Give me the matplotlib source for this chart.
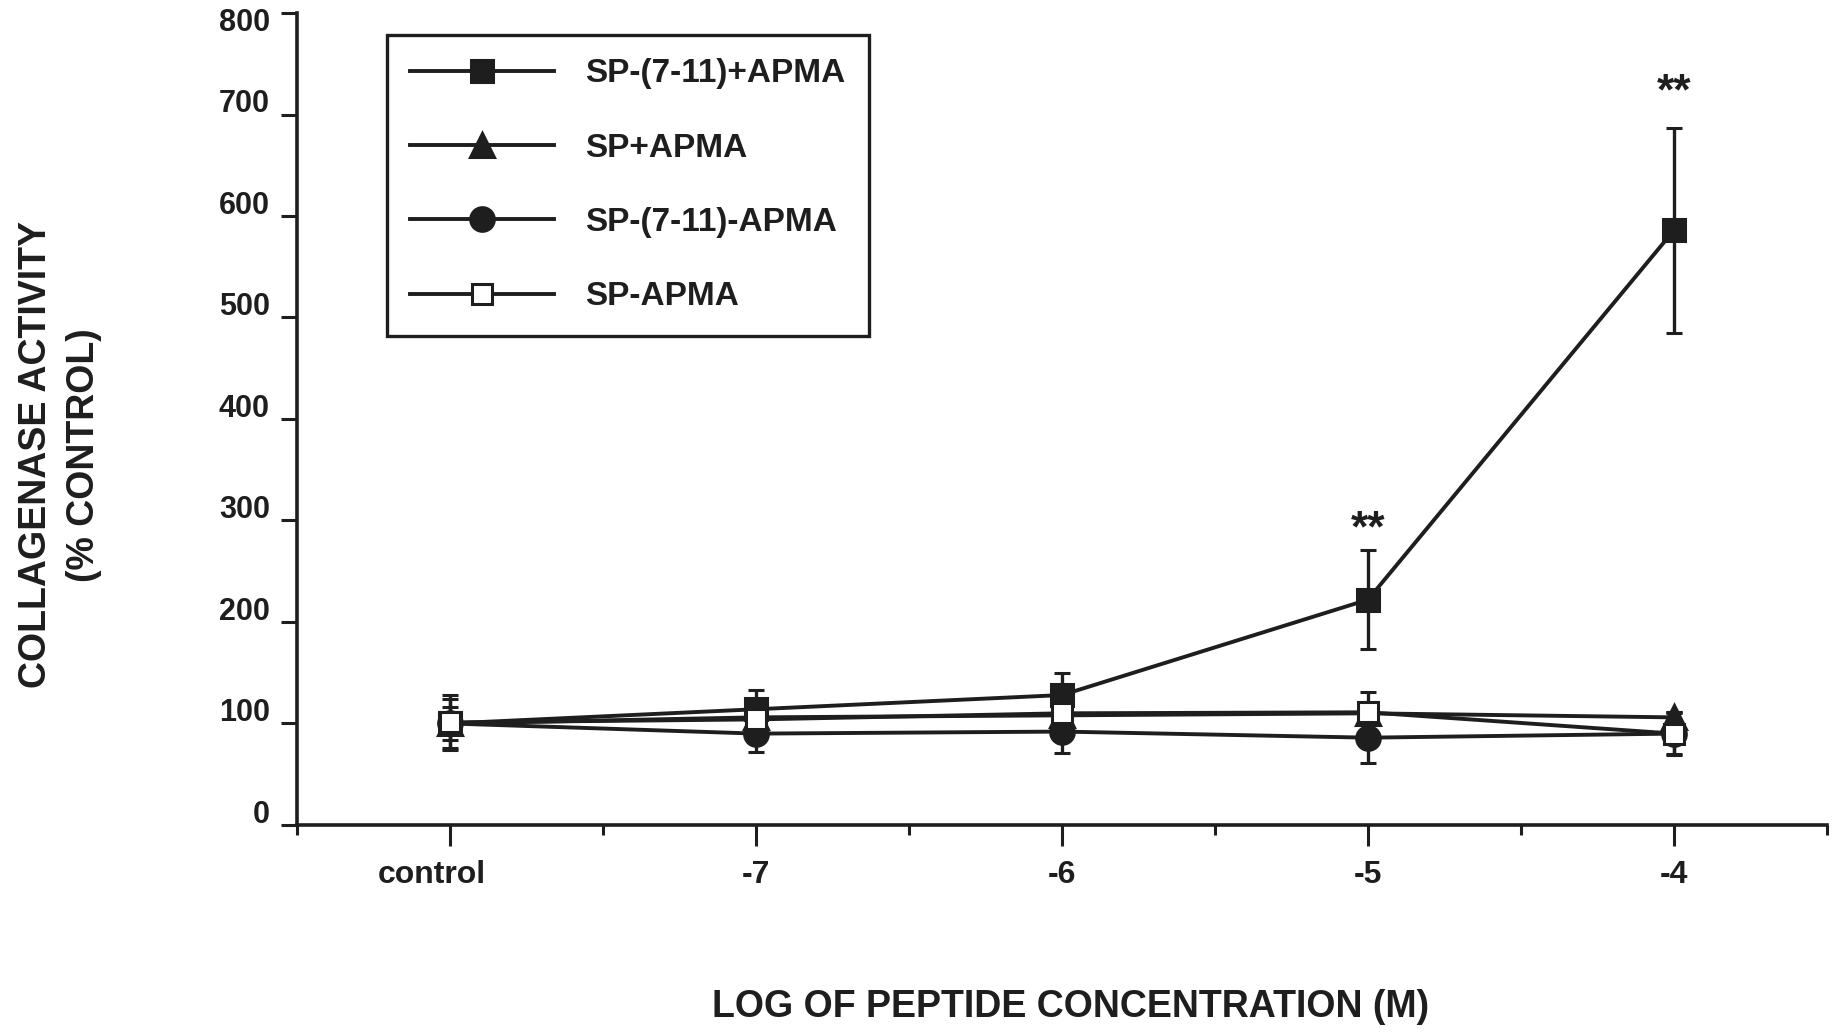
import numpy as np
import matplotlib
matplotlib.use('Agg')
import matplotlib.pyplot as plt
from matplotlib.lines import Line2D
from matplotlib.transforms import ScaledTranslation

plt.rcParams['font.family'] = ['Liberation Sans', 'DejaVu Sans']
plt.rcParams['font.weight'] = 'bold'

# log of peptide concentration (M); control first
conc_labels = ['control', '-7', '-6', '-5', '-4']

# collagenase activity, % of control (mean and error)
sp711_apma = [100, 114, 128, 222, 586]
sp711_apma_err = [16, 19, 22, 49, 101]
sp_apma = [100, 106, 108, 110, 106]
sp_apma_err = [10, 8, 8, 8, 5]
sp711_noapma = [100, 90, 92, 86, 90]
sp711_noapma_err = [24, 18, 21, 25, 20]
sp_noapma = [101, 104, 110, 111, 90]
sp_noapma_err = [27, 12, 12, 20, 21]

# significance marks: (index, text, gap above error bar in pt)
signif = [(3, '**', 6), (4, '**', 17)]

ink = '#1e1e1e'
lw = 2.8
x = np.arange(len(conc_labels))

fig = plt.figure(figsize=(18.41, 10.33), dpi=100)
ax = fig.add_axes([0.1613, 0.2014, 0.8311, 0.786])

common = dict(color=ink, lw=lw, capsize=6, elinewidth=2.4, capthick=2.4)

# series: (values, errors, label, marker, size, face, zorder)
series = [
    (sp_apma, sp_apma_err, 'SP+APMA', '^', 17, ink, 2),
    (sp711_noapma, sp711_noapma_err, 'SP-(7-11)-APMA', 'o', 17, ink, 3),
    (sp711_apma, sp711_apma_err, 'SP-(7-11)+APMA', 's', 16, ink, 4),
    (sp_noapma, sp_noapma_err, 'SP-APMA', 's', 14, 'white', 5),
]
keys = {}
for vals, err, lab, mk, ms, fc, z in series:
    ax.errorbar(x, vals, yerr=err, marker=mk, ms=ms, mew=2.2,
                mfc=fc, mec=ink, zorder=z, **common)
    keys[lab] = Line2D([], [], color=ink, lw=lw, marker=mk, ms=ms,
                       mew=2.2, mfc=fc, mec=ink)

for i, s, gap in signif:
    ax.annotate(s, (x[i], sp711_apma[i] + sp711_apma_err[i]),
                xytext=(0, gap), textcoords='offset points',
                ha='center', va='baseline', fontsize=32, fontweight='bold', color=ink)

ax.set_xlim(-0.5, 4.5)
ax.set_ylim(0, 800)
ax.set_xticks(x)
ax.set_xticklabels(conc_labels)
ax.set_xticks(np.arange(-0.5, 4.6, 1.0), minor=True)
ax.set_yticks(np.arange(0, 801, 100))

for side in ['top', 'right']:
    ax.spines[side].set_visible(False)
for side in ['left', 'bottom']:
    ax.spines[side].set_linewidth(2.6)
    ax.spines[side].set_color(ink)

ax.tick_params(axis='x', which='major', length=15, width=2.2, pad=10,
               labelsize=23, colors=ink)
ax.tick_params(axis='x', which='minor', length=7, width=2.2, colors=ink)
ax.tick_params(axis='y', length=11.5, width=2.2, pad=8, labelsize=22, colors=ink)

# y labels sit a little above their ticks (the top one stays put)
ylabs = ax.get_yticklabels()
for lab in ylabs[:-1]:
    lab.set_transform(lab.get_transform() + ScaledTranslation(0, 10 / 72, fig.dpi_scale_trans))
ylabs[-1].set_transform(ylabs[-1].get_transform() + ScaledTranslation(0, -5 / 72, fig.dpi_scale_trans))
# "control" is set a bit left of its tick
xlab0 = ax.get_xticklabels()[0]
xlab0.set_transform(xlab0.get_transform() + ScaledTranslation(-13 / 72, 0, fig.dpi_scale_trans))

order = ['SP-(7-11)+APMA', 'SP+APMA', 'SP-(7-11)-APMA', 'SP-APMA']
leg = ax.legend([keys[k] for k in order], order, loc='upper left',
                bbox_to_anchor=(0.0588, 0.973), borderaxespad=0,
                fontsize=24, handlelength=4.3, handletextpad=0.95,
                labelspacing=1.3, borderpad=0.7, numpoints=1,
                fancybox=False, framealpha=1, edgecolor=ink)
leg.get_frame().set_linewidth(2.4)
for t in leg.get_texts():
    t.set_fontweight('bold')
    t.set_color(ink)

fig.text(60 / 1841, 1 - 455 / 1033, 'COLLAGENASE ACTIVITY\n(% CONTROL)',
         rotation=90, ha='center', va='center', fontsize=27,
         fontweight='bold', linespacing=1.45, color=ink)
fig.text(1071 / 1841, 1 - 1007 / 1033, 'LOG OF PEPTIDE CONCENTRATION (M)',
         ha='center', va='center', fontsize=27, fontweight='bold', color=ink)

fig.savefig('out.png', dpi=100, facecolor='white')
